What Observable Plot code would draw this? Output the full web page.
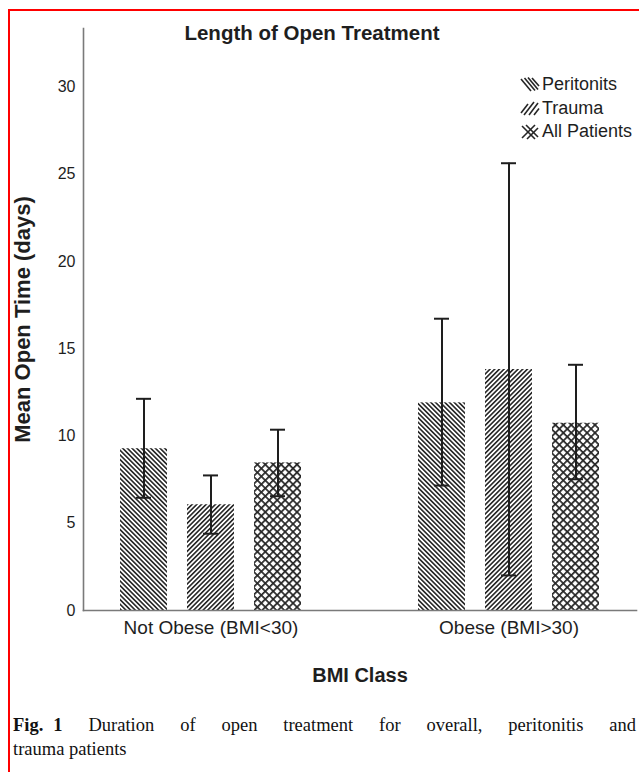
<!DOCTYPE html>
<html>
<head>
<meta charset="utf-8">
<script src="https://cdn.jsdelivr.net/npm/d3@7"></script>
<script src="https://cdn.jsdelivr.net/npm/@observablehq/plot@0.6"></script>
<style>
  html, body { margin: 0; padding: 0; background: #fff; }
  body { width: 639px; height: 772px; overflow: hidden; position: relative; font-family: "Liberation Sans", Arial, sans-serif; color: #1e1e1e; }
  #border { position: absolute; left: 8px; top: 9px; width: 700px; height: 800px; border-left: 2px solid #ff0000; border-top: 2px solid #ff0000; box-sizing: border-box; }
  #chart { position: absolute; left: 0; top: 0; }
  #title { position: absolute; left: 312px; top: 21px; transform: translateX(-50%); font-weight: bold; font-size: 20.5px; line-height: 24px; white-space: nowrap; }
  #legend { position: absolute; left: 519px; top: 73px; font-size: 18px; line-height: 23.5px; }
  #legend div { display: flex; align-items: center; white-space: nowrap; }
  #legend svg { margin-right: 2px; }
  #caption { position: absolute; left: 13px; top: 713px; width: 623px; font-family: "Liberation Serif", "Times New Roman", serif; font-size: 18.5px; line-height: 24px; color: #111; }
  #caption .l1 { text-align: justify; text-align-last: justify; white-space: nowrap; }
  #caption .fig { display: inline-block; font-weight: bold; }
  #caption .fig span { margin-left: 10px; }
  #chart [aria-label="y-axis label"] { font-size: 22px; font-weight: bold; }
  #chart [aria-label="fx-axis label"] { font-size: 20px; font-weight: bold; }
</style>
</head>
<body>
<div id="border"></div>
<div id="chart"></div>
<div id="title">Length of Open Treatment</div>
<div id="legend"></div>
<div id="caption">
  <div class="l1"><span class="fig">Fig.<span>1</span></span> Duration of open treatment for overall, peritonitis and</div>
  <div>trauma patients</div>
</div>
<script>
// ---- data ----
const bmiClass = ["Not Obese (BMI<30)", "Obese (BMI>30)"];
const series = ["Peritonits", "Trauma", "All Patients"];
const yTicks = [0, 5, 10, 15, 20, 25, 30];

const peritonitisMean = [9.27, 11.90];
const peritonitisLow  = [6.46, 7.16];
const peritonitisHigh = [12.13, 16.72];

const traumaMean = [6.06, 13.81];
const traumaLow  = [4.40, 2.01];
const traumaHigh = [7.74, 25.63];

const allMean = [8.46, 10.73];
const allLow  = [6.55, 7.52];
const allHigh = [10.36, 14.08];

const patternIds = ["patPeri", "patTrauma", "patAll"];

// ---- build table ----
const seriesArrays = [
  [peritonitisMean, peritonitisLow, peritonitisHigh],
  [traumaMean, traumaLow, traumaHigh],
  [allMean, allLow, allHigh]
];
const rows = [];
bmiClass.forEach((b, bi) => {
  series.forEach((s, si) => {
    const [m, lo, hi] = seriesArrays[si];
    rows.push({bmi: b, series: s, mean: m[bi], low: lo[bi], high: hi[bi]});
  });
});

const ink = "#262626";
const defs = `
<defs>
  <pattern id="patPeri" patternUnits="userSpaceOnUse" width="3.3" height="3.3" patternTransform="rotate(-45)">
    <rect x="0" y="0" width="1.6" height="3.3" fill="${ink}"/>
  </pattern>
  <pattern id="patTrauma" patternUnits="userSpaceOnUse" width="3.3" height="3.3" patternTransform="rotate(45)">
    <rect x="0" y="0" width="1.6" height="3.3" fill="${ink}"/>
  </pattern>
  <pattern id="patAll" patternUnits="userSpaceOnUse" width="5.6" height="5.6" patternTransform="rotate(45)">
    <rect x="0" y="0" width="1.7" height="5.6" fill="${ink}"/>
    <rect x="0" y="0" width="5.6" height="1.7" fill="${ink}"/>
  </pattern>
</defs>`;

const errStyle = {stroke: "#1e1e1e", strokeWidth: 2};

const chart = Plot.plot({
  width: 639,
  height: 700,
  marginTop: 28,
  marginLeft: 83,
  marginRight: 3,
  marginBottom: 90,
  style: {fontFamily: "'Liberation Sans', Arial, sans-serif", color: "#1e1e1e", background: "transparent"},
  fx: {domain: bmiClass, paddingInner: 0.1443, paddingOuter: 0},
  x: {domain: series, paddingInner: 0.3027, paddingOuter: 0.543, axis: null},
  y: {domain: [0, 33.35], axis: null},
  color: {domain: series, range: patternIds.map(id => `url(#${id})`)},
  marks: [
    Plot.barY(rows, {fx: "bmi", x: "series", y: "mean", fill: "series"}),
    Plot.ruleX(rows, {fx: "bmi", x: "series", y1: "low", y2: "high", ...errStyle}),
    Plot.tickY(rows, {fx: "bmi", x: "series", y: "low", insetLeft: 16, insetRight: 16, ...errStyle}),
    Plot.tickY(rows, {fx: "bmi", x: "series", y: "high", insetLeft: 16, insetRight: 16, ...errStyle}),
    Plot.axisY({ticks: yTicks, tickSize: 0, tickPadding: 8, fontSize: 16,
      label: "Mean Open Time (days)", labelAnchor: "center", labelArrow: "none", labelOffset: 69}),
    Plot.axisFx({anchor: "bottom", tickSize: 0, tickPadding: 10, fontSize: 19,
      label: "BMI Class", labelAnchor: "center", labelArrow: "none", labelOffset: 71}),
    Plot.frame({anchor: "left", facet: "super", stroke: "#7a7a7a", strokeWidth: 1.6}),
    Plot.frame({anchor: "bottom", facet: "super", stroke: "#7a7a7a", strokeWidth: 1.6})
  ]
});

const svg = chart.tagName.toLowerCase() === "svg" ? chart : chart.querySelector("svg");
svg.insertAdjacentHTML("afterbegin", defs);
document.getElementById("chart").appendChild(chart);

// ---- legend (HTML, small hatch glyphs like the reference) ----
const icons = [
  // "\\\\" hatch
  `<g stroke="${ink}" stroke-width="1.6"><line x1="2" y1="2" x2="12" y2="14"/><line x1="5.5" y1="1" x2="16" y2="13.5"/><line x1="9" y1="0.5" x2="19" y2="12.5"/><line x1="13" y1="1" x2="20" y2="9"/></g>`,
  // "////" hatch
  `<g stroke="${ink}" stroke-width="1.6"><line x1="2" y1="13" x2="9" y2="4"/><line x1="5" y1="15" x2="15" y2="2"/><line x1="10" y1="15" x2="19" y2="3"/><line x1="15" y1="15" x2="20" y2="8.5"/></g>`,
  // cross-hatch
  `<g stroke="${ink}" stroke-width="1.6" fill="none"><line x1="3" y1="2" x2="16" y2="15"/><line x1="7" y1="1" x2="19" y2="13"/><line x1="16" y1="1" x2="3" y2="14"/><line x1="19" y1="4" x2="8" y2="15"/></g>`
];
const legend = document.getElementById("legend");
series.forEach((s, i) => {
  const item = document.createElement("div");
  item.innerHTML = `<svg width="21" height="16" viewBox="0 0 21 16">${icons[i]}</svg><span>${s}</span>`;
  legend.appendChild(item);
});
</script>
</body>
</html>
